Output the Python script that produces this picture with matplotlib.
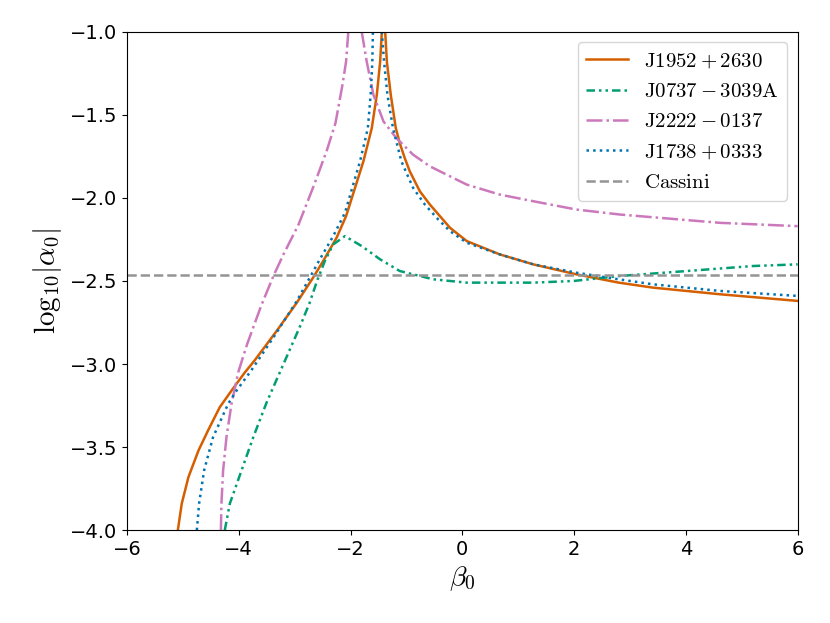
import numpy as np
import matplotlib
matplotlib.use('Agg')
import matplotlib.pyplot as plt

plt.rcParams['mathtext.fontset'] = 'cm'

nan = np.nan

# J1952+2630 (two branches split by nan, both run off the top)
beta_j1952 = [-5.09, -5.02, -4.90, -4.72, -4.55, -4.34, -4.13, -3.89, -3.72, -3.32, -2.96, -2.67,
              -2.49, -2.25, -2.08, -1.92, -1.77, -1.62, -1.53, -1.47, -1.44, nan,
              -1.38, -1.35, -1.28, -1.19, -1.12, -1.03, -0.94, -0.76, -0.58, -0.40, -0.22, 0.08, 0.67,
              1.27, 2.04, 2.80, 3.41, 4.61, 6.0]
alpha_j1952 = [-4.0, -3.84, -3.68, -3.52, -3.40, -3.26, -3.16, -3.05, -2.98, -2.80, -2.63, -2.48,
               -2.38, -2.24, -2.11, -1.94, -1.78, -1.58, -1.38, -1.18, -1.0, nan,
               -1.0, -1.18, -1.38, -1.58, -1.67, -1.76, -1.84, -1.96, -2.04, -2.11, -2.18, -2.26, -2.34,
               -2.40, -2.46, -2.51, -2.54, -2.58, -2.62]

# J0737-3039A
beta_j0737 = [-4.25, -4.16, -3.95, -3.74, -3.50, -3.20, -2.90, -2.73, -2.60, -2.46, -2.31,
              -2.10, -1.95, -1.80, -1.47, -1.12, -0.52, 0.08, 0.72, 1.27, 1.99, 2.82, 4.02, 5.2, 6.0]
alpha_j0737 = [-4.0, -3.84, -3.64, -3.44, -3.23, -3.00, -2.77, -2.63, -2.50, -2.38, -2.28,
               -2.23, -2.26, -2.29, -2.37, -2.44, -2.49, -2.51, -2.51, -2.51, -2.50, -2.47, -2.44, -2.41, -2.40]

# J2222-0137
beta_j2222 = [-4.32, -4.31, -4.28, -4.22, -4.13, -4.01, -3.85, -3.60, -3.38, -3.20, -2.93, -2.65,
              -2.43, -2.27, -2.15, -2.08, -2.04, nan,
              -1.80, -1.71, -1.59, -1.41, -1.18, -0.88, -0.58, 0.08, 0.67, 1.27, 2.04, 2.82, 4.61, 6.0]
alpha_j2222 = [-4.0, -3.84, -3.64, -3.44, -3.24, -3.05, -2.88, -2.65, -2.47, -2.34, -2.16, -1.92,
               -1.72, -1.55, -1.33, -1.18, -1.0, nan,
               -1.0, -1.18, -1.38, -1.54, -1.64, -1.74, -1.81, -1.92, -1.98, -2.02, -2.07, -2.10, -2.15, -2.17]

# J1738+0333
beta_j1738 = [-4.75, -4.71, -4.62, -4.46, -4.19, -4.04, -3.78, -3.38, -2.96, -2.73, -2.55, -2.31,
              -2.10, -1.97, -1.83, -1.69, -1.64, -1.61, -1.60, nan,
              -1.44, -1.40, -1.34, -1.24, -1.09, -0.88, -0.67, -0.43, -0.22, 0.08, 0.67, 1.27, 2.04,
              2.80, 3.41, 4.61, 6.0]
alpha_j1738 = [-4.0, -3.84, -3.64, -3.44, -3.24, -3.16, -3.04, -2.84, -2.62, -2.48, -2.37, -2.23,
               -2.09, -1.94, -1.78, -1.58, -1.38, -1.18, -1.0, nan,
               -1.0, -1.18, -1.38, -1.58, -1.78, -1.94, -2.04, -2.13, -2.20, -2.27, -2.34, -2.40, -2.45,
               -2.49, -2.52, -2.56, -2.59]

cassini = -2.467

fig = plt.figure(figsize=(8.3, 6.23), dpi=100)
ax = fig.add_axes([0.153, 0.149, 0.808, 0.800])
lw = 1.8
ax.plot(beta_j1952, alpha_j1952, color='#d55e00', lw=lw, ls='-', label=r'$\mathrm{J1952+2630}$')
ax.plot(beta_j0737, alpha_j0737, color='#029e73', lw=lw, ls=(0, (3.4, 1.6, 1, 1.6, 1, 1.6)),
        label=r'$\mathrm{J0737-3039A}$')
ax.plot(beta_j2222, alpha_j2222, color='#cc78bc', lw=lw, ls='-.', label=r'$\mathrm{J2222-0137}$')
ax.plot(beta_j1738, alpha_j1738, color='#0173b2', lw=lw, ls=':', label=r'$\mathrm{J1738+0333}$')
ax.axhline(cassini, color='#949494', lw=lw, ls='--', label=r'$\mathrm{Cassini}$')

ax.set_xlim(-6, 6)
ax.set_ylim(-4, -1)
ax.set_xticks([-6, -4, -2, 0, 2, 4, 6])
ax.set_yticks([-4.0, -3.5, -3.0, -2.5, -2.0, -1.5, -1.0])
ax.tick_params(labelsize=14)
ax.set_xlabel(r'$\beta_0$', fontsize=20)
ax.set_ylabel(r'$\mathrm{log}_{10}|\alpha_0|$', fontsize=21)
ax.legend(loc='upper right', fontsize=15)
fig.savefig('out.png', dpi=100)
